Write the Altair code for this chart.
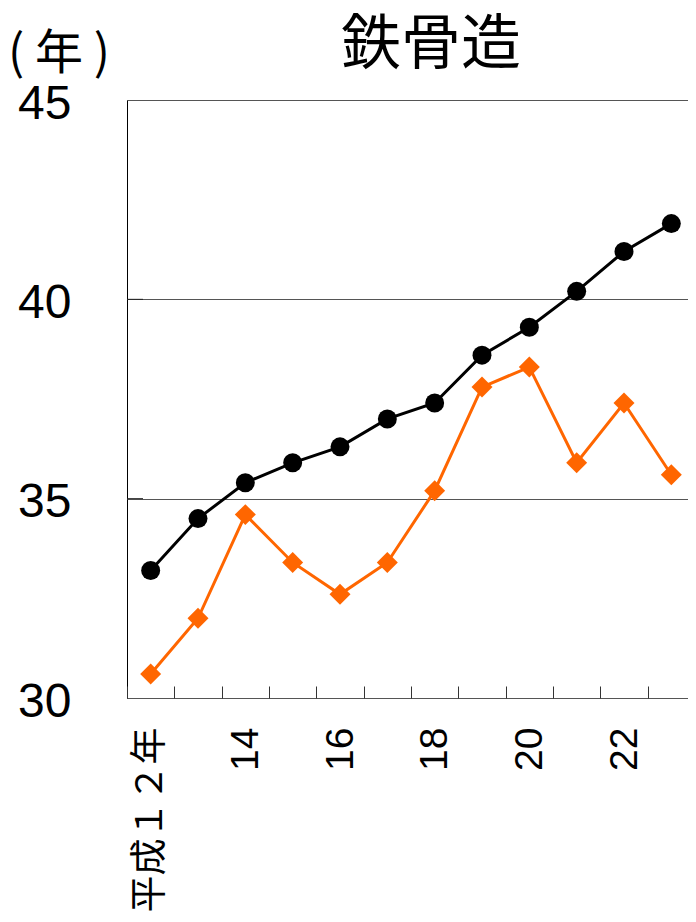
import altair as alt
import pandas as pd

years = ["平成１２年", "13", "14", "15", "16", "17", "18", "19", "20", "21", "22", "23"]
series_black = [33.2, 34.5, 35.4, 35.9, 36.3, 37.0, 37.4, 38.6, 39.3, 40.2, 41.2, 41.9]
series_orange = [30.6, 32.0, 34.6, 33.4, 32.6, 33.4, 35.2, 37.8, 38.3, 35.9, 37.4, 35.6]
series_names = ["black", "orange"]
series_colors = ["#000000", "#FF6600"]
series_shapes = ["circle", "diamond"]
y_ticks = [30, 35, 40, 45]
inner_ticks = [35, 40]
shown_labels = ["平成１２年", "14", "16", "18", "20", "22"]
unit_label = ["( 年 )"]
chart_title = "鉄骨造"

df = pd.DataFrame({
    "year": years * 2,
    "value": series_black + series_orange,
    "series": [series_names[0]] * len(years) + [series_names[1]] * len(years),
})
tick_df = pd.DataFrame({"value": inner_ticks})
unit_df = pd.DataFrame({"label": unit_label})

LATIN = "Liberation Sans, Noto Sans CJK JP"
CJK = "Noto Sans CJK JP"

label_expr = "indexof(" + str(shown_labels).replace(" ", "") + ", datum.label) >= 0 ? datum.label : ''"

x_enc = alt.X(
    "year:N",
    sort=years,
    bandPosition=0.5,
    scale=alt.Scale(type="band", paddingInner=0, paddingOuter=0),
    axis=alt.Axis(
        title=None, labelAngle=-90,
        labelFontSize={"condition": {"test": "datum.label == '平成１２年'", "value": 37}, "value": 39},
        labelFont=LATIN,
        labelColor="#000", labelPadding=29, labelLimit=400,
        ticks=True, tickBand="extent", tickSize=12, tickColor="#333",
        tickWidth=1, domain=False, grid=False, offset=-12,
        labelExpr=label_expr,
    ),
)
y_scale = alt.Scale(domain=[30, 45], nice=False, zero=False)
y_axis = alt.Axis(
    values=y_ticks, title=None,
    labelFontSize=48, labelFont=LATIN, labelColor="#000", labelPadding=56,
    labelOffset=4,
    ticks=False, domain=False, grid=True, gridColor="#555", gridWidth=1,
)
y_enc = alt.Y("value:Q", scale=y_scale, axis=y_axis)
color_enc = alt.Color("series:N", scale=alt.Scale(domain=series_names, range=series_colors), legend=None)

lines = alt.Chart(df).mark_line(strokeWidth=3).encode(x=x_enc, y=y_enc, color=color_enc, detail="series:N")
points = alt.Chart(df).mark_point(filled=True, opacity=1).encode(
    x=alt.X("year:N", sort=years, bandPosition=0.5),
    y=alt.Y("value:Q", axis=y_axis),
    color=color_enc,
    shape=alt.Shape("series:N", scale=alt.Scale(domain=series_names, range=series_shapes), legend=None),
    size=alt.Size("series:N", scale=alt.Scale(domain=series_names, range=[360, 440]), legend=None),
)
stubs = alt.Chart(tick_df).mark_rule(color="#222", strokeWidth=1).encode(
    y=alt.Y("value:Q", axis=y_axis), x=alt.value(0), x2=alt.value(16)
)
unit = alt.Chart(unit_df).mark_text(
    font=CJK, fontSize=48, align="left", baseline="alphabetic", color="#000"
).encode(text="label:N", x=alt.value(-119), y=alt.value(-31))

chart = alt.layer(lines, points, stubs, unit).properties(
    width=568,
    height=598,
    title=alt.TitleParams(chart_title, fontSize=60, font=CJK, fontWeight="normal",
                          anchor="middle", frame="group", offset=-46, dx=20, color="#000"),
    autosize=alt.AutoSizeParams(type="none"),
    padding={"left": 119, "top": 92, "right": -7, "bottom": 216},
).configure_view(stroke="#000", strokeWidth=1)

chart.save("out.html", embed_options={"renderer": "svg", "actions": False})
